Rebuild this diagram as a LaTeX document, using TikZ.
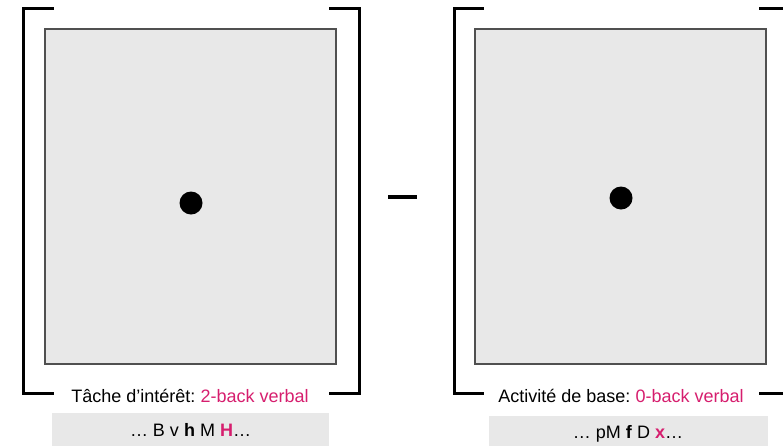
\documentclass[tikz,border=0pt]{standalone}
\usepackage{fontspec}
\setmainfont{Liberation Sans}
\frenchspacing
\definecolor{pinkc}{RGB}{214,30,110}
\definecolor{panel}{RGB}{232,232,232}
\definecolor{edgec}{RGB}{80,80,80}
\begin{document}
\begin{tikzpicture}[x=1pt,y=-1pt,
  bracket/.style={line width=3pt, line cap=rect},
  panelbox/.style={fill=panel, draw=edgec, line width=1.2pt, inner sep=0pt, outer sep=0pt, minimum width=291pt, minimum height=335pt, anchor=north west},
  dotc/.style={circle, fill=black, minimum size=23pt, inner sep=0pt},
  lbl/.style={font=\fontsize{18}{21}\selectfont, anchor=base, inner sep=0pt},
  seqbox/.style={fill=panel, inner sep=0pt, minimum height=34pt, anchor=north west, font=\fontsize{18}{21}\selectfont}
]
\useasboundingbox (0,0) rectangle (783,445);
\clip (0,0) rectangle (783,445);
% left panel
\node[panelbox] (p1) at (45,29) {};
\node[dotc] (d1) at (191,203) {};
\draw[bracket] (52,8) -- (23,8) -- (23,393) -- (52,393);
\draw[bracket] (330,8) -- (359,8) -- (359,393) -- (330,393);
\node[lbl] (l1) at (190,402.5) {Tâche d’intérêt: \textcolor{pinkc}{2-back verbal}};
\node[seqbox, minimum width=277pt] (s1) at (52,413) {};
\node[lbl] (t1) at (190.5,436.5) {… B v \textbf{h} M \textcolor{pinkc}{\textbf{H}}…};
% minus
\draw[line width=4.5pt] (388,197) -- (417,197);
% right panel
\node[panelbox] (p2) at (475,29) {};
\node[dotc] (d2) at (621,198) {};
\draw[bracket] (482,8) -- (454,8) -- (454,393) -- (482,393);
\draw[bracket] (760,8) -- (790,8) -- (790,393) -- (760,393);
\node[lbl] (l2) at (621,402.5) {Activité de base: \textcolor{pinkc}{0-back verbal}};
\node[seqbox, minimum width=279pt] (s2) at (489,416) {};
\node[lbl] (t2) at (628,438) {… pM \textbf{f} D \textcolor{pinkc}{\textbf{x}}…};
\end{tikzpicture}
\end{document}
